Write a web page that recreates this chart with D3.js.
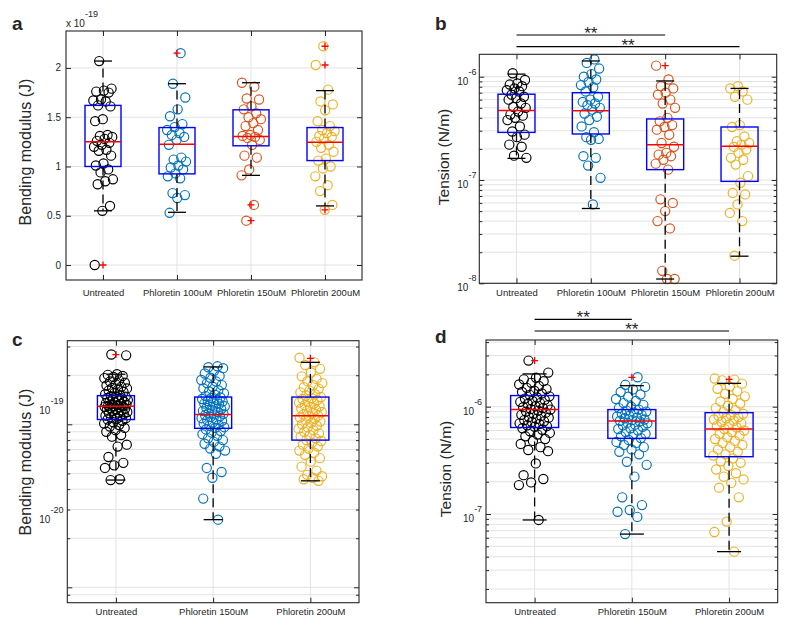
<!DOCTYPE html>
<html><head><meta charset="utf-8">
<script src="https://cdn.jsdelivr.net/npm/d3@7"></script>
<style>
body{margin:0;background:#fff}
svg{display:block}
text{font-family:Helvetica, Arial, "Liberation Sans", sans-serif; fill:#262626}
</style>
</head><body>
<svg id="chart" width="800" height="630"></svg>
<script>
// ---------------- DATA ----------------
const groupsAB = ["Untreated", "Phloretin 100uM", "Phloretin 150uM", "Phloretin 200uM"];
const groupsCD = ["Untreated", "Phloretin 150uM", "Phloretin 200uM"];
const colorsAB = ["#000000", "#0072BD", "#D95319", "#EDB120"];
const colorsCD = ["#000000", "#0072BD", "#EDB120"];

// Panel a: bending modulus, units of 1e-19 J
const aUntreated = [2.07, 1.79, 1.77, 1.76, 1.75, 1.68, 1.67, 1.66, 1.62, 1.61, 1.48, 1.46, 1.32, 1.31, 1.30, 1.28, 1.26, 1.24, 1.22, 1.20, 1.17, 1.16, 1.11, 1.03, 1.01, 0.97, 0.94, 0.87, 0.85, 0.82, 0.60, 0.55, 0.0];
const aPhl100 = [2.15, 1.84, 1.70, 1.58, 1.51, 1.43, 1.40, 1.37, 1.34, 1.32, 1.30, 1.27, 1.22, 1.09, 1.07, 1.05, 1.01, 0.99, 0.97, 0.93, 0.90, 0.88, 0.73, 0.71, 0.68, 0.53];
const aPhl150 = [1.85, 1.81, 1.69, 1.68, 1.61, 1.58, 1.54, 1.50, 1.48, 1.44, 1.41, 1.37, 1.32, 1.31, 1.30, 1.29, 1.27, 1.22, 1.11, 1.09, 0.97, 0.91, 0.61, 0.45];
const aPhl200 = [2.22, 2.03, 1.78, 1.66, 1.63, 1.57, 1.46, 1.41, 1.37, 1.36, 1.34, 1.31, 1.30, 1.28, 1.25, 1.22, 1.19, 1.15, 1.08, 1.06, 1.00, 0.98, 0.90, 0.81, 0.75, 0.61, 0.56];
const aQ1 = [1.00, 0.925, 1.21, 1.06];
const aMedian = [1.25, 1.225, 1.305, 1.245];
const aQ3 = [1.62, 1.395, 1.575, 1.395];
const aWhiskerLo = [0.55, 0.535, 0.91, 0.60];
const aWhiskerHi = [2.07, 1.84, 1.85, 1.77];
const aOutliers = [[0.0], [2.15], [0.61, 0.45], [2.22, 2.03, 0.56]];
const aTicks = [0, 0.5, 1, 1.5, 2];
const aTickLabels = ["0", "0.5", "1", "1.5", "2"];

// Panel b: tension, units of 1e-7 N/m
const bUntreated = [10.8, 9.3, 8.6, 8.4, 8.1, 7.7, 7.4, 7.2, 6.7, 6.4, 6.2, 6.0, 5.5, 5.1, 5.0, 4.6, 4.3, 4.2, 4.0, 3.8, 3.3, 2.95, 2.75, 2.6, 2.2, 2.1, 1.72, 1.64];
const bPhl100 = [14.7, 13.6, 12.0, 10.6, 10.0, 9.4, 8.9, 8.3, 7.9, 7.2, 6.4, 6.0, 5.7, 5.5, 5.3, 5.0, 4.8, 4.4, 4.1, 3.8, 3.3, 2.9, 2.6, 2.5, 2.45, 1.7, 1.64, 1.38, 1.05, 0.58];
const bPhl150 = [12.8, 9.4, 8.1, 7.7, 7.0, 6.7, 6.0, 5.5, 5.0, 4.0, 3.7, 3.4, 3.26, 3.07, 2.74, 2.28, 2.1, 1.83, 1.76, 1.7, 1.57, 1.44, 1.26, 0.65, 0.60, 0.50, 0.40, 0.34, 0.132, 0.11, 0.11];
const bPhl200 = [8.1, 7.7, 7.2, 6.4, 6.0, 3.4, 3.26, 2.64, 2.37, 2.28, 2.2, 2.09, 1.97, 1.83, 1.64, 1.57, 1.41, 1.09, 0.94, 0.75, 0.725, 0.58, 0.48, 0.40, 0.185];
const bQ1 = [2.89, 2.79, 1.26, 0.97];
const bMedian = [4.7, 4.68, 2.2, 2.12];
const bQ3 = [6.77, 7.0, 3.9, 3.26];
const bWhiskerLo = [1.62, 0.53, 0.11, 0.183];
const bWhiskerHi = [10.6, 14.2, 9.1, 7.7];
const bOutliers = [[], [], [12.8], []];
const bTickExponents = [-8, -7, -6];

// Panel c: bending modulus, units of 1e-19 J
const cUntreated = [2.68, 2.65, 2.03, 2.01, 1.98, 1.95, 1.92, 1.86, 1.83, 1.80, 1.76, 1.73, 1.70, 1.67, 1.66, 1.63, 1.61, 1.58, 1.56, 1.53, 1.51, 1.49, 1.48, 1.47, 1.45, 1.44, 1.42, 1.41, 1.40, 1.38, 1.37, 1.36, 1.35, 1.34, 1.33, 1.32, 1.31, 1.30, 1.29, 1.29, 1.28, 1.27, 1.26, 1.25, 1.24, 1.23, 1.22, 1.21, 1.19, 1.18, 1.17, 1.16, 1.14, 1.13, 1.12, 1.10, 1.09, 1.08, 1.07, 1.05, 1.03, 1.01, 0.99, 0.97, 0.95, 0.92, 0.90, 0.86, 0.84, 0.75, 0.73, 0.63, 0.58, 0.56, 0.54, 0.46, 0.455];
const cPhl150 = [2.27, 2.24, 2.21, 2.12, 2.05, 1.98, 1.93, 1.87, 1.83, 1.79, 1.74, 1.70, 1.66, 1.62, 1.59, 1.55, 1.52, 1.49, 1.46, 1.45, 1.43, 1.41, 1.39, 1.38, 1.36, 1.34, 1.33, 1.31, 1.29, 1.27, 1.26, 1.24, 1.22, 1.21, 1.19, 1.17, 1.16, 1.15, 1.14, 1.12, 1.11, 1.09, 1.07, 1.06, 1.05, 1.03, 1.01, 0.99, 0.98, 0.96, 0.95, 0.93, 0.91, 0.89, 0.87, 0.85, 0.82, 0.80, 0.78, 0.76, 0.73, 0.71, 0.69, 0.66, 0.54, 0.51, 0.47, 0.35, 0.26];
const cPhl200 = [2.56, 2.40, 2.31, 2.19, 2.08, 1.97, 1.90, 1.84, 1.79, 1.74, 1.69, 1.65, 1.61, 1.57, 1.53, 1.50, 1.47, 1.45, 1.43, 1.41, 1.38, 1.36, 1.34, 1.31, 1.29, 1.27, 1.25, 1.23, 1.21, 1.19, 1.17, 1.15, 1.13, 1.12, 1.10, 1.08, 1.06, 1.04, 1.02, 1.00, 0.98, 0.96, 0.94, 0.92, 0.90, 0.88, 0.86, 0.84, 0.82, 0.80, 0.79, 0.77, 0.75, 0.73, 0.71, 0.69, 0.67, 0.65, 0.62, 0.59, 0.55, 0.52, 0.49, 0.48, 0.47, 0.46, 0.45];
const cQ1 = [1.07, 0.945, 0.80];
const cMedian = [1.29, 1.15, 1.13];
const cQ3 = [1.50, 1.47, 1.47];
const cWhiskerLo = [0.455, 0.26, 0.45];
const cWhiskerHi = [2.03, 2.25, 2.40];
const cOutliers = [[2.68], [], [2.54]];
const cTickExponents = [-20, -19];

// Panel d: tension, units of 1e-7 N/m
const dUntreated = [26.9, 20.8, 18.6, 18.0, 17.3, 16.7, 16.1, 15.6, 15.0, 14.6, 14.1, 13.7, 13.3, 12.9, 12.5, 12.2, 11.9, 11.6, 11.3, 11.1, 10.8, 10.6, 10.3, 10.1, 9.9, 9.7, 9.5, 9.4, 9.2, 9.0, 8.8, 8.6, 8.4, 8.2, 8.0, 7.9, 7.7, 7.5, 7.3, 7.2, 7.0, 6.9, 6.7, 6.6, 6.5, 6.3, 6.1, 5.9, 5.7, 5.5, 5.3, 5.0, 4.8, 4.5, 4.2, 3.95, 3.85, 2.96, 2.30, 2.12, 1.97, 1.86, 0.88];
const dPhl150 = [18.8, 16.0, 15.3, 14.5, 13.7, 13.0, 12.4, 11.8, 11.3, 10.8, 10.4, 10.0, 9.7, 9.4, 9.2, 9.0, 8.8, 8.6, 8.4, 8.2, 8.1, 7.9, 7.8, 7.6, 7.5, 7.4, 7.3, 7.1, 7.0, 6.8, 6.7, 6.5, 6.3, 6.2, 6.0, 5.8, 5.6, 5.5, 5.3, 5.1, 4.9, 4.7, 4.6, 4.4, 4.2, 4.0, 3.8, 3.6, 3.07, 2.87, 2.23, 1.43, 1.21, 1.09, 1.05, 0.94, 0.65];
const dPhl200 = [18.3, 17.9, 17.6, 16.4, 15.4, 14.7, 13.9, 13.2, 12.5, 11.8, 11.2, 10.7, 10.2, 9.7, 9.3, 8.9, 8.6, 8.4, 8.2, 8.0, 7.8, 7.6, 7.4, 7.2, 7.0, 6.8, 6.6, 6.4, 6.2, 6.0, 5.8, 5.6, 5.4, 5.2, 5.0, 4.8, 4.6, 4.4, 4.2, 4.0, 3.8, 3.6, 3.5, 3.3, 3.1, 3.0, 2.8, 2.6, 2.4, 2.23, 2.1, 1.95, 1.76, 1.43, 0.85, 0.68, 0.446];
const dQ1 = [6.4, 5.07, 3.42];
const dMedian = [9.4, 7.36, 6.2];
const dQ3 = [12.7, 9.4, 8.8];
const dWhiskerLo = [0.88, 0.65, 0.446];
const dWhiskerHi = [20.2, 15.7, 16.5];
const dOutliers = [[26.9], [18.8], [18.0]];
const dTickExponents = [-7, -6];

// ---------------- DRAWING ----------------
const svg = d3.select("#chart");
const FONT = "Helvetica, Arial, 'Liberation Sans', sans-serif";

// deterministic low-discrepancy horizontal spread for the scatter
function spreadOffset(i, g) {
  const v = ((i + 0.5) * 0.6180339887 + g * 0.37) % 1;
  return (v - 0.5) * 2;
}

function logGridValues(domain) {
  const lo = Math.min(domain[0], domain[1]), hi = Math.max(domain[0], domain[1]);
  const out = [];
  for (let e = Math.floor(Math.log10(lo)); e <= Math.ceil(Math.log10(hi)); e++) {
    for (let k = 1; k <= 9; k++) {
      const v = k * Math.pow(10, e);
      if (v >= lo * 0.9999 && v <= hi * 1.0001) out.push(v);
    }
  }
  return out;
}

function drawPanel(p) {
  const g = svg.append("g");
  const x = d3.scalePoint().domain(p.groups).range([p.left, p.right]).padding(0.5);
  const y = (p.log ? d3.scaleLog() : d3.scaleLinear()).domain(p.yDomain).range([p.bottom, p.top]);
  const W = p.right - p.left, H = p.bottom - p.top;

  const gridVals = p.log ? logGridValues(p.yDomain) : p.ticks.map(t => t * p.unit);
  const majorVals = p.log ? p.tickExps.map(e => Math.pow(10, e)) : p.ticks.map(t => t * p.unit);

  // grid
  g.append("g").selectAll("line").data(gridVals).join("line")
    .attr("x1", p.left).attr("x2", p.right)
    .attr("y1", d => y(d)).attr("y2", d => y(d))
    .attr("stroke", "#e3e3e3").attr("stroke-width", 1);
  g.append("g").selectAll("line").data(p.groups).join("line")
    .attr("x1", d => x(d)).attr("x2", d => x(d))
    .attr("y1", p.top).attr("y2", p.bottom)
    .attr("stroke", "#e3e3e3").attr("stroke-width", 1);

  // scatter
  p.series.forEach((vals, gi) => {
    g.append("g").selectAll("circle").data(vals).join("circle")
      .attr("cx", (d, i) => x(p.groups[gi]) + spreadOffset(i, gi) * p.spread)
      .attr("cy", d => y(d * p.unit))
      .attr("r", 4.6)
      .attr("fill", "none")
      .attr("stroke", p.colors[gi])
      .attr("stroke-width", 1.15);
  });

  // boxplots
  const bg = g.append("g");
  p.groups.forEach((grp, gi) => {
    const cx = x(grp);
    const yq1 = y(p.q1[gi] * p.unit), yq3 = y(p.q3[gi] * p.unit), ym = y(p.med[gi] * p.unit);
    const ylo = y(p.lo[gi] * p.unit), yhi = y(p.hi[gi] * p.unit);
    bg.append("line").attr("x1", cx).attr("x2", cx).attr("y1", yq3).attr("y2", yhi)
      .attr("stroke", "#000").attr("stroke-width", 1.3).attr("stroke-dasharray", "9,5");
    bg.append("line").attr("x1", cx).attr("x2", cx).attr("y1", yq1).attr("y2", ylo)
      .attr("stroke", "#000").attr("stroke-width", 1.3).attr("stroke-dasharray", "9,5");
    [ylo, yhi].forEach(yy => bg.append("line")
      .attr("x1", cx - p.capW / 2).attr("x2", cx + p.capW / 2).attr("y1", yy).attr("y2", yy)
      .attr("stroke", "#000").attr("stroke-width", 1.3));
    bg.append("rect").attr("x", cx - p.boxW / 2).attr("y", yq3)
      .attr("width", p.boxW).attr("height", yq1 - yq3)
      .attr("fill", "none").attr("stroke", "#0000FF").attr("stroke-width", 1.4);
    bg.append("line").attr("x1", cx - p.boxW / 2).attr("x2", cx + p.boxW / 2).attr("y1", ym).attr("y2", ym)
      .attr("stroke", "#FF0000").attr("stroke-width", 1.5);
    p.outliers[gi].forEach(v => {
      const oy = y(v * p.unit);
      bg.append("path").attr("d", `M${cx - 3.5},${oy}H${cx + 3.5}M${cx},${oy - 3.5}V${oy + 3.5}`)
        .attr("stroke", "#FF0000").attr("stroke-width", 1.3).attr("fill", "none");
    });
  });

  // inward ticks on all four sides
  g.append("g").attr("transform", `translate(${p.left},0)`)
    .call(d3.axisLeft(y).tickValues(majorVals).tickSizeInner(-5).tickSizeOuter(0).tickFormat(""));
  g.append("g").attr("transform", `translate(${p.right},0)`)
    .call(d3.axisRight(y).tickValues(majorVals).tickSizeInner(-5).tickSizeOuter(0).tickFormat(""));
  if (p.log) {
    const minors = gridVals.filter(v => !majorVals.some(m => Math.abs(m - v) / m < 1e-6));
    g.append("g").attr("transform", `translate(${p.left},0)`)
      .call(d3.axisLeft(y).tickValues(minors).tickSizeInner(-3).tickSizeOuter(0).tickFormat(""));
    g.append("g").attr("transform", `translate(${p.right},0)`)
      .call(d3.axisRight(y).tickValues(minors).tickSizeInner(-3).tickSizeOuter(0).tickFormat(""));
  }
  g.append("g").attr("transform", `translate(0,${p.top})`)
    .call(d3.axisTop(x).tickSizeInner(-5).tickSizeOuter(0).tickFormat(""));
  const axB = g.append("g").attr("transform", `translate(0,${p.bottom})`)
    .call(d3.axisBottom(x).tickSizeInner(-5).tickSizeOuter(0).tickPadding(p.xLabelPad));
  axB.selectAll("text").attr("font-size", "9.5px").attr("font-family", FONT).attr("fill", "#262626");
  g.selectAll(".domain").remove();
  g.selectAll(".tick line").attr("stroke", "#262626");

  // frame
  g.append("rect").attr("x", p.left).attr("y", p.top).attr("width", W).attr("height", H)
    .attr("fill", "none").attr("stroke", "#262626").attr("stroke-width", 1.1);

  // y tick labels
  if (p.log) {
    p.tickExps.forEach((e, k) => {
      const yy = y(p.labelAnchors ? p.labelAnchors[k] : Math.pow(10, e));
      const t = g.append("text").attr("x", p.left - p.labelDx).attr("y", yy + 8)
        .attr("font-size", "10px").attr("font-family", FONT);
      t.append("tspan").text("10");
      t.append("tspan").attr("dy", -10).attr("font-size", "9px").text(String(e));
    });
  } else {
    g.append("g").selectAll("text").data(p.ticks).join("text")
      .attr("x", p.left - 5).attr("y", d => y(d * p.unit))
      .attr("text-anchor", "end").attr("dominant-baseline", "central")
      .attr("font-size", "10px").attr("font-family", FONT)
      .text((d, i) => p.tickLabels[i]);
    const m = g.append("text").attr("x", p.left).attr("y", p.top - 4)
      .attr("font-size", "10px").attr("font-family", FONT);
    m.append("tspan").text("x 10");
    m.append("tspan").attr("dy", -10).attr("font-size", "9px").text("-19");
  }

  // y axis title
  g.append("text")
    .attr("transform", `translate(${p.titleX},${p.titleY}) rotate(-90)`)
    .attr("text-anchor", "middle").attr("dominant-baseline", "central")
    .attr("font-size", p.titleSize + "px").attr("font-family", FONT)
    .text(p.title);

  // panel letter
  g.append("text").attr("x", p.letterX).attr("y", p.letterY)
    .attr("font-size", "19px").attr("font-weight", "bold").attr("font-family", FONT)
    .attr("fill", "#000").text(p.letter);

  // significance bars
  (p.sig || []).forEach(s => {
    const x1 = x(p.groups[s.from]), x2 = x(p.groups[s.to]);
    g.append("line").attr("x1", x1).attr("x2", x2).attr("y1", s.y).attr("y2", s.y)
      .attr("stroke", "#000").attr("stroke-width", 1.2);
    g.append("text").attr("x", (x1 + x2) / 2).attr("y", s.y + 4)
      .attr("text-anchor", "middle").attr("font-size", "17px").attr("font-family", FONT)
      .attr("fill", "#000").text("**");
  });
}

drawPanel({
  letter: "a", letterX: 12, letterY: 30,
  left: 66, right: 362, top: 31, bottom: 280,
  groups: groupsAB, colors: colorsAB,
  series: [aUntreated, aPhl100, aPhl150, aPhl200],
  q1: aQ1, med: aMedian, q3: aQ3, lo: aWhiskerLo, hi: aWhiskerHi, outliers: aOutliers,
  unit: 1, log: false, yDomain: [-0.152, 2.375], ticks: aTicks, tickLabels: aTickLabels,
  boxW: 36, capW: 18, spread: 10, xLabelPad: 9,
  title: "Bending modulus (J)", titleX: 25, titleY: 152, titleSize: 16
});

drawPanel({
  letter: "b", letterX: 435, letterY: 30,
  left: 479.3, right: 776.7, top: 54.3, bottom: 283.3,
  groups: groupsAB, colors: colorsAB,
  series: [bUntreated, bPhl100, bPhl150, bPhl200],
  q1: bQ1, med: bMedian, q3: bQ3, lo: bWhiskerLo, hi: bWhiskerHi, outliers: bOutliers,
  unit: 1e-7, log: true, yDomain: [1e-8, Math.pow(10, -5.783)], tickExps: bTickExponents, labelDx: 22,
  boxW: 37, capW: 18, spread: 10, xLabelPad: 6,
  title: "Tension (N/m)", titleX: 443, titleY: 157, titleSize: 15.5,
  sig: [{from: 0, to: 2, y: 35}, {from: 0, to: 3, y: 46.7}]
});

drawPanel({
  letter: "c", letterX: 12, letterY: 346,
  left: 67.3, right: 359, top: 340.7, bottom: 602.7,
  groups: groupsCD, colors: colorsCD,
  series: [cUntreated, cPhl150, cPhl200],
  q1: cQ1, med: cMedian, q3: cQ3, lo: cWhiskerLo, hi: cWhiskerHi, outliers: cOutliers,
  unit: 1e-19, log: true, yDomain: [Math.pow(10, -20.0945), Math.pow(10, -18.487)], tickExps: cTickExponents,
  labelAnchors: [2.78e-20, 1.3e-19], labelDx: 28,
  boxW: 37, capW: 19, spread: 12, xLabelPad: 6,
  title: "Bending modulus (J)", titleX: 25, titleY: 462, titleSize: 16
});

drawPanel({
  letter: "d", letterX: 435, letterY: 343,
  left: 486, right: 777.7, top: 340, bottom: 602.7,
  groups: groupsCD, colors: colorsCD,
  series: [dUntreated, dPhl150, dPhl200],
  q1: dQ1, med: dMedian, q3: dQ3, lo: dWhiskerLo, hi: dWhiskerHi, outliers: dOutliers,
  unit: 1e-7, log: true, yDomain: [Math.pow(10, -7.8266), Math.pow(10, -5.3784)], tickExps: dTickExponents, labelDx: 23,
  boxW: 48, capW: 24, spread: 16, xLabelPad: 6,
  title: "Tension (N/m)", titleX: 445, titleY: 469, titleSize: 15.5,
  sig: [{from: 0, to: 1, y: 319.3}, {from: 0, to: 2, y: 331}]
});
</script>
</body></html>
